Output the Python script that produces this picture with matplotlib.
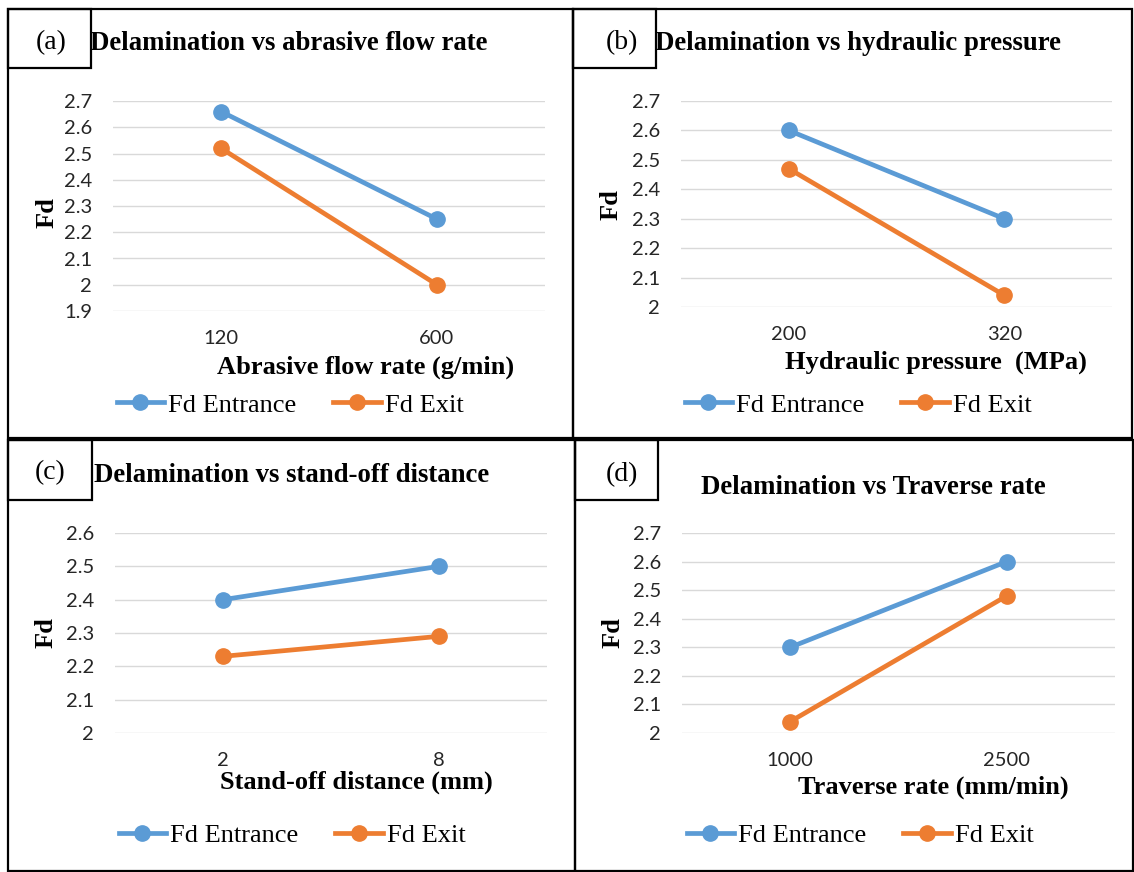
import matplotlib
matplotlib.use("Agg")
import matplotlib.pyplot as plt
from matplotlib.patches import Rectangle

# data
labels_a = ['120', '600']
entrance_a = [2.66, 2.25]
exit_a = [2.52, 2.00]
yticks_a = [1.9, 2.0, 2.1, 2.2, 2.3, 2.4, 2.5, 2.6, 2.7]

labels_b = ['200', '320']
entrance_b = [2.60, 2.30]
exit_b = [2.47, 2.04]
yticks_b = [2.0, 2.1, 2.2, 2.3, 2.4, 2.5, 2.6, 2.7]

labels_c = ['2', '8']
entrance_c = [2.40, 2.50]
exit_c = [2.23, 2.29]
yticks_c = [2.0, 2.1, 2.2, 2.3, 2.4, 2.5, 2.6]

labels_d = ['1000', '2500']
entrance_d = [2.30, 2.60]
exit_d = [2.04, 2.48]
yticks_d = [2.0, 2.1, 2.2, 2.3, 2.4, 2.5, 2.6, 2.7]

titles = ['Delamination vs abrasive flow rate', 'Delamination vs hydraulic pressure',
          'Delamination vs stand-off distance', 'Delamination vs Traverse rate']
xlabels = ['Abrasive flow rate (g/min)', 'Hydraulic pressure  (MPa)',
           'Stand-off distance (mm)', 'Traverse rate (mm/min)']
tags = ['(a)', '(b)', '(c)', '(d)']

W, H = 1134, 872
BLUE = '#5B9BD5'
ORANGE = '#ED7D31'
SERIF = 'Liberation Serif'
SANS = 'Lato'

fig = plt.figure(figsize=(W / 100, H / 100), dpi=100)


def fx(x):
    return x / W


def fy(y):
    return 1 - y / H


def box(l, t, r, b, lw=1.6):
    fig.add_artist(Rectangle((fx(l), fy(b)), fx(r - l), (b - t) / H, transform=fig.transFigure,
                             fill=False, edgecolor='black', linewidth=lw))


panels = [
    # data, layout (panel box, tag box, tag pos, title pos, axes rect, xlabel pos, ylabel pos, legend pos)
    dict(cats=labels_a, ent=entrance_a, ext=exit_a, yt=yticks_a,
         panel=(8, 9, 573, 438), tagbox=(8, 9, 91, 68), tag=(51, 43), title=(289, 43),
         ax=(113, 101, 545, 311), xl=(366, 367), yl=(47, 213), leg=(290, 405)),
    dict(cats=labels_b, ent=entrance_b, ext=exit_b, yt=yticks_b,
         panel=(573, 9, 1132, 438), tagbox=(573, 9, 656, 68), tag=(622, 43), title=(858, 43),
         ax=(681, 101, 1112, 307), xl=(936, 362), yl=(611, 205), leg=(858, 405)),
    dict(cats=labels_c, ent=entrance_c, ext=exit_c, yt=yticks_c,
         panel=(8, 440, 575, 871), tagbox=(8, 440, 92, 500), tag=(50, 473), title=(292, 475),
         ax=(115, 533, 547, 733), xl=(356, 782), yl=(46, 633), leg=(292, 835)),
    dict(cats=labels_d, ent=entrance_d, ext=exit_d, yt=yticks_d,
         panel=(575, 440, 1133, 871), tagbox=(575, 440, 658, 500), tag=(622, 475), title=(873, 487),
         ax=(682, 533, 1115, 733), xl=(933, 787), yl=(613, 633), leg=(860, 835)),
]

for i, p in enumerate(panels):
    l, t, r, b = p['ax']
    ax = fig.add_axes([fx(l), fy(b), fx(r - l), (b - t) / H])
    xs = list(range(len(p['cats'])))
    ax.plot(xs, p['ent'], color=BLUE, lw=3.4, marker='o', ms=11, label='Fd Entrance')
    ax.plot(xs, p['ext'], color=ORANGE, lw=3.4, marker='o', ms=11, label='Fd Exit')
    ax.set_xlim(-0.5, len(xs) - 0.5)
    ax.set_ylim(p['yt'][0], p['yt'][-1])
    ax.set_xticks(xs)
    ax.set_xticklabels(p['cats'], fontfamily=SANS, fontsize=14.5, color='#262626')
    ax.set_yticks(p['yt'])
    ax.set_yticklabels(['%g' % v for v in p['yt']], fontfamily=SANS, fontsize=14.5, color='#262626')
    ax.tick_params(length=0, axis='y', pad=15)
    ax.tick_params(length=0, axis='x', pad=14)
    ax.grid(axis='y', color='#D9D9D9', lw=1.0)
    ax.set_axisbelow(True)
    for s in ax.spines.values():
        s.set_visible(False)
    ax.patch.set_alpha(0)
    for ln in ax.lines:
        ln.set_clip_on(False)

    ax.legend(loc='center', bbox_to_anchor=(fx(p['leg'][0]), fy(p['leg'][1])),
              bbox_transform=fig.transFigure, ncol=2, frameon=False,
              prop={'family': SERIF, 'size': 19}, handlelength=1.8,
              handletextpad=0.15, columnspacing=1.4)

    box(*p['panel'])
    box(*p['tagbox'])
    fig.text(fx(p['tag'][0]), fy(p['tag'][1]), tags[i], family=SERIF, fontsize=20,
             ha='center', va='center')
    fig.text(fx(p['title'][0]), fy(p['title'][1]), titles[i], family=SERIF, fontsize=19.3,
             fontweight='bold', ha='center', va='center')
    fig.text(fx(p['xl'][0]), fy(p['xl'][1]), xlabels[i], family=SERIF, fontsize=19,
             fontweight='bold', ha='center', va='center')
    fig.text(fx(p['yl'][0]), fy(p['yl'][1]), 'Fd', family=SERIF, fontsize=19,
             fontweight='bold', ha='center', va='center', rotation=90)

fig.savefig('out.png', dpi=100)
